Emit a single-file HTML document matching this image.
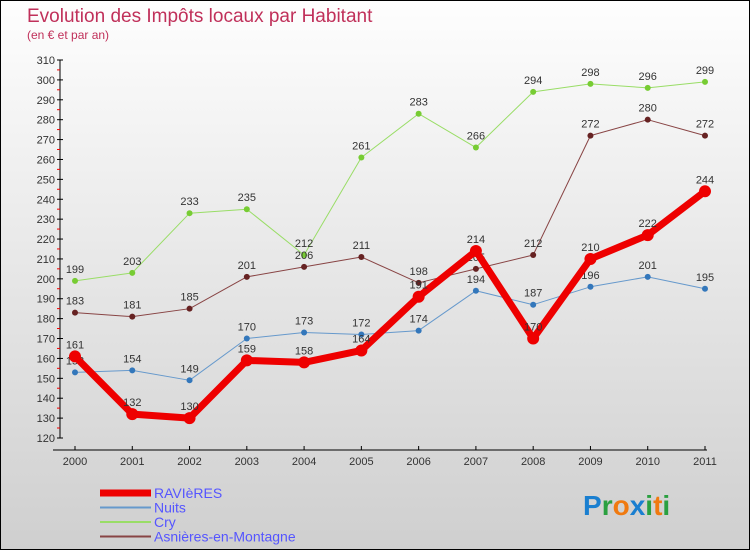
<!DOCTYPE html>
<html><head><meta charset="utf-8"><style>
body{margin:0}
svg{display:block;font-family:"Liberation Sans",sans-serif}
</style></head><body>
<svg width="750" height="550">
<defs><linearGradient id="bg" x1="0" y1="0" x2="0" y2="1"><stop offset="0" stop-color="#fefefe"/><stop offset="1" stop-color="#cfcfcf"/></linearGradient></defs>
<rect x="0.5" y="0.5" width="749" height="549" fill="url(#bg)" stroke="#000"/>
<text x="27" y="22" font-size="19" fill="#c0305a">Evolution des Impôts locaux par Habitant</text>
<text x="27" y="39" font-size="12" fill="#c0305a">(en € et par an)</text>
<g id="axes"></g>
<g id="series"></g>
<g id="legend"></g>
<text x="583" y="515" font-size="28" font-weight="bold"><tspan fill="#1a7fd0">P</tspan><tspan fill="#2aa040">r</tspan><tspan fill="#f07a10">o</tspan><tspan fill="#1a7fd0">x</tspan><tspan fill="#2aa040">i</tspan><tspan fill="#f07a10">t</tspan><tspan fill="#2aa040">i</tspan></text>
</svg>
<script>
const years=["2000","2001","2002","2003","2004","2005","2006","2007","2008","2009","2010","2011"];
const ravieres=[161,132,130,159,158,164,191,214,170,210,222,244];
const nuits=[153,154,149,170,173,172,174,194,187,196,201,195];
const cry=[199,203,233,235,212,261,283,266,294,298,296,299];
const asnieres=[183,181,185,201,206,211,198,205,212,272,280,272];
const yTicks=[120,130,140,150,160,170,180,190,200,210,220,230,240,250,260,270,280,290,300,310];
const NS="http://www.w3.org/2000/svg";
function xs(i){return 75+i*(630/11);}
function ys(v){return 438-(v-120)*(378/190);}
function mk(tag,at,parent){const e=document.createElementNS(NS,tag);for(const k in at)e.setAttribute(k,at[k]);parent.appendChild(e);return e;}
const ax=document.getElementById('axes');
let l=mk('line',{x1:60,y1:ys(310),x2:60,y2:ys(120),stroke:'#000'},ax);


yTicks.forEach(v=>{
 const y=ys(v);
 mk('line',{x1:57,y1:y,x2:63,y2:y,stroke:'#000'},ax);
 if(v<310)mk('line',{x1:57,y1:y-10,x2:60,y2:y-10,stroke:'#e00'},ax);
 const t=mk('text',{x:55,y:y+4,'font-size':11,fill:'#333','text-anchor':'end'},ax);t.textContent=v;
 
 
});
l=mk('line',{x1:53,y1:450,x2:707,y2:450,stroke:'#000'},ax);


years.forEach((yr,i)=>{
 const x=xs(i);
 mk('line',{x1:x,y1:446,x2:x,y2:450,stroke:'#000'},ax);
 const t=mk('text',{x:x,y:465,'font-size':11,fill:'#333','text-anchor':'middle'},ax);t.textContent=yr;
 
 
});
const sg=document.getElementById('series');
const defs=[
 {d:cry,c:'#99dd66',dot:'#77cc33',w:1,r:3,name:'cry'},
 {d:asnieres,c:'#884444',dot:'#662222',w:1,r:3,name:'asnieres'},
 {d:nuits,c:'#6699cc',dot:'#3377bb',w:1,r:3,name:'nuits'},
 {d:ravieres,c:'#ee0000',dot:'#ee0000',w:7,r:6,name:'ravieres'}];
defs.forEach(s=>{
 const g=mk('g',{},sg);
 
 
 const p=mk('polyline',{points:s.d.map((v,i)=>xs(i)+','+ys(v)).join(' '),fill:'none',stroke:s.c,'stroke-width':s.w,'stroke-linejoin':'round'},g);
 
 
 s.d.forEach((v,i)=>{
  const c=mk('circle',{cx:xs(i),cy:ys(v),r:s.r,fill:s.dot},g);
  
  
  const t=mk('text',{x:xs(i),y:ys(v)-8,'font-size':11,fill:'#333','text-anchor':'middle'},g);t.textContent=v;
  
  
 });
});
const lg=document.getElementById('legend');
[['RAVIèRES','#ee0000',7],['Nuits','#6699cc',2],['Cry','#99dd66',2],['Asnières-en-Montagne','#884444',2]].forEach((e,i)=>{
 const y=493+i*14.5;
 const g=mk('g',{},lg);
 
 
 mk('line',{x1:100,y1:y,x2:151,y2:y,stroke:e[1],'stroke-width':e[2]},g);
 const t=mk('text',{x:154,y:y+5,'font-size':14,fill:'#5555ff'},g);t.textContent=e[0];
});
</script>
</body></html>
